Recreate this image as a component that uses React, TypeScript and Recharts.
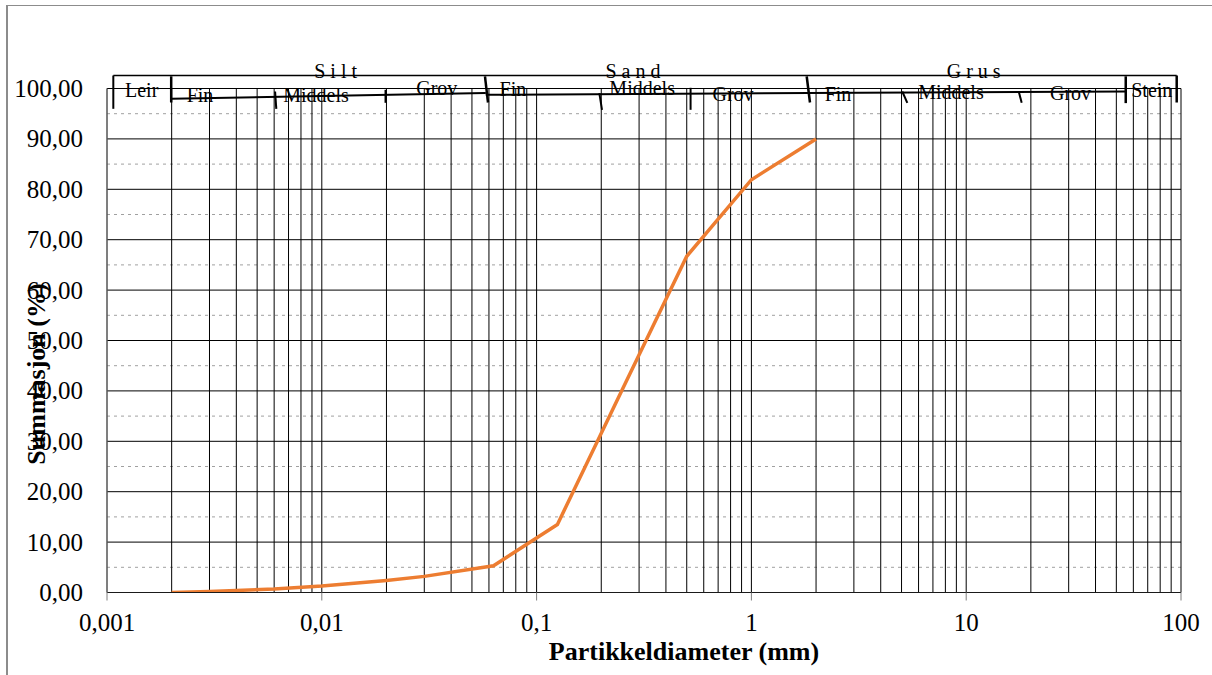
import { CartesianGrid, Line, LineChart, ReferenceDot, ReferenceLine, XAxis, YAxis } from "recharts"

const SERIF = '"Liberation Serif", "Times New Roman", serif'

// siktekurve: partikkeldiameter (mm) og summasjon (%)
const diameters = [0.002, 0.003, 0.006, 0.01, 0.02, 0.03, 0.063, 0.125, 0.25, 0.5, 1, 2]
const passing = [0, 0.2, 0.7, 1.3, 2.4, 3.2, 5.3, 13.5, 40.2, 66.7, 81.9, 90.0]

const xTicks = [0.001, 0.01, 0.1, 1, 10, 100]
const xTickLabels = ["0,001", "0,01", "0,1", "1", "10", "100"]
const yTicks = [0, 10, 20, 30, 40, 50, 60, 70, 80, 90, 100]
const yMinorTicks = [5, 15, 25, 35, 45, 55, 65, 75, 85, 95]
const decades = [0.001, 0.01, 0.1, 1, 10]
const multipliers = [1, 2, 3, 4, 5, 6, 7, 8, 9]

// soil class header (x in mm, y in % units of the plot)
const groupLabels = [
  { text: "Leir", x: 0.00145, y: 98.4 },
  { text: "S i l t", x: 0.0116, y: 102.06 },
  { text: "S a n d", x: 0.281, y: 102.06 },
  { text: "G r u s", x: 10.84, y: 102.06 },
  { text: "Stein", x: 73.1, y: 98.4 },
]
const subLabels = [
  { text: "Fin", x: 0.00271, y: 97.4 },
  { text: "Middels", x: 0.0094, y: 97.4 },
  { text: "Grov", x: 0.0343, y: 98.75 },
  { text: "Fin", x: 0.0776, y: 98.55 },
  { text: "Middels", x: 0.31, y: 98.75 },
  { text: "Grov", x: 0.821, y: 97.6 },
  { text: "Fin", x: 2.53, y: 97.6 },
  { text: "Middels", x: 8.49, y: 97.9 },
  { text: "Grov", x: 30.6, y: 97.76 },
]
type Seg = { x1: number; y1: number; x2: number; y2: number; w: number }
const headerLines: Seg[] = [
  { x1: 0.00107, y1: 102.58, x2: 95.5, y2: 102.58, w: 1.5 },
  { x1: 0.00107, y1: 102.58, x2: 0.00107, y2: 95.97, w: 2 },
  { x1: 0.00199, y1: 102.42, x2: 0.00199, y2: 97.22, w: 2.5 },
  { x1: 0.0575, y1: 102.42, x2: 0.0594, y2: 97.22, w: 2.5 },
  { x1: 1.809, y1: 102.42, x2: 1.874, y2: 97.22, w: 2.5 },
  { x1: 55.3, y1: 102.42, x2: 55.3, y2: 97.1, w: 2.5 },
  { x1: 95.5, y1: 102.58, x2: 95.5, y2: 97.22, w: 2.5 },
  { x1: 0.002, y1: 97.96, x2: 0.058, y2: 99.09, w: 2 },
  { x1: 0.058, y1: 98.75, x2: 1.85, y2: 99.09, w: 2 },
  { x1: 1.85, y1: 99.09, x2: 55.3, y2: 99.4, w: 2 },
  { x1: 0.00606, y1: 99.4, x2: 0.00614, y2: 95.97, w: 2 },
  { x1: 0.0198, y1: 99.74, x2: 0.0198, y2: 97.16, w: 2 },
  { x1: 0.1959, y1: 99.09, x2: 0.2016, y2: 95.77, w: 2 },
  { x1: 0.521, y1: 100.14, x2: 0.521, y2: 95.77, w: 2 },
  { x1: 5.04, y1: 99.4, x2: 5.32, y2: 97.16, w: 2 },
  { x1: 17.61, y1: 99.2, x2: 18.13, y2: 97.16, w: 2 },
]

const rows = diameters.map((d, i) => ({ d, passing: passing[i] }))
const verticalValues = [...decades.flatMap((dec) => multipliers.map((m) => +(dec * m).toPrecision(3))), 100]

const fmtY = (v: number) => v.toFixed(2).replace(".", ",")

function XTick({ x, y, payload }: any) {
  const i = xTicks.indexOf(payload.value)
  return (
    <text x={x} y={y + 28.5} textAnchor="middle" fontSize={25} fontFamily={SERIF} fill="#000">
      {xTickLabels[i] ?? payload.value}
    </text>
  )
}

function YTick({ x, y, payload }: any) {
  return (
    <text x={x} y={y + 8.5} textAnchor="end" fontSize={25} fontFamily={SERIF} fill="#000">
      {fmtY(payload.value)}
    </text>
  )
}

const headerText = (text: string) => (props: any) => {
  const vb = props.viewBox || { x: 0, y: 0, width: 0, height: 0 }
  return (
    <text x={vb.x + vb.width / 2} y={vb.y + vb.height / 2} textAnchor="middle" fontSize={20} fontFamily={SERIF} fill="#000">
      {text}
    </text>
  )
}

export default function App() {
  return (
    <div style={{ position: "absolute", left: 0, top: 0, width: 1212, height: 675, overflow: "hidden", background: "#fff" }}>
      <div
        style={{
          position: "absolute",
          left: 6,
          top: 5,
          width: 1300,
          height: 800,
          borderLeft: "2px solid #8c8c8c",
          borderTop: "1px solid #8c8c8c",
        }}
      />
      <div style={{ position: "absolute", left: 0, top: 0 }}>
        <LineChart width={1212} height={675} data={rows} margin={{ top: 88.5, right: 31, bottom: 22.5, left: 0 }}>
          <CartesianGrid
            vertical={false}
            horizontalValues={yMinorTicks}
            stroke="#a0a0a0"
            strokeDasharray="3 4"
          />
          <CartesianGrid horizontalValues={yTicks} verticalValues={verticalValues} stroke="#000" />
          <XAxis
            dataKey="d"
            type="number"
            scale="log"
            domain={[0.001, 100]}
            ticks={xTicks}
            interval={0}
            allowDataOverflow
            height={60}
            tickSize={8}
            tickMargin={2}
            tickLine={{ stroke: "#7f7f7f" }}
            axisLine={{ stroke: "#1a1a1a" }}
            tick={<XTick />}
            label={{
              content: (p: any) => {
                const vb = p.viewBox
                return (
                  <text
                    x={vb.x + vb.width / 2 + 40}
                    y={vb.y + 67.5}
                    textAnchor="middle"
                    fontSize={26}
                    fontWeight="bold"
                    fontFamily={SERIF}
                    fill="#000"
                  >
                    Partikkeldiameter (mm)
                  </text>
                )
              },
            }}
          />
          <YAxis
            type="number"
            domain={[0, 100]}
            ticks={yTicks}
            interval={0}
            allowDataOverflow
            width={107}
            tickSize={0}
            tickMargin={24}
            tickLine={false}
            axisLine={{ stroke: "#7f7f7f" }}
            tick={<YTick />}
            label={{
              content: (p: any) => {
                const vb = p.viewBox
                const cx = vb.x + 45
                const cy = vb.y + vb.height / 2 + 33.5
                return (
                  <text
                    x={cx}
                    y={cy}
                    transform={`rotate(-90 ${cx} ${cy})`}
                    textAnchor="middle"
                    fontSize={26}
                    fontWeight="bold"
                    fontFamily={SERIF}
                    fill="#000"
                  >
                    Summasjon (%)
                  </text>
                )
              },
            }}
          />
          {headerLines.map((s, i) => (
            <ReferenceLine
              key={`hl-${i}`}
              segment={[
                { x: s.x1, y: s.y1 },
                { x: s.x2, y: s.y2 },
              ]}
              stroke="#000"
              strokeWidth={s.w}
              ifOverflow="visible"
            />
          ))}
          {[...groupLabels, ...subLabels].map((l, i) => (
            <ReferenceDot
              key={`ht-${i}`}
              x={l.x}
              y={l.y}
              r={0}
              fill="none"
              stroke="none"
              ifOverflow="visible"
              label={headerText(l.text)}
            />
          ))}
          <Line
            type="linear"
            dataKey="passing"
            stroke="#ED7D31"
            strokeWidth={3.5}
            dot={false}
            activeDot={false}
            isAnimationActive={false}
          />
        </LineChart>
      </div>
    </div>
  )
}
